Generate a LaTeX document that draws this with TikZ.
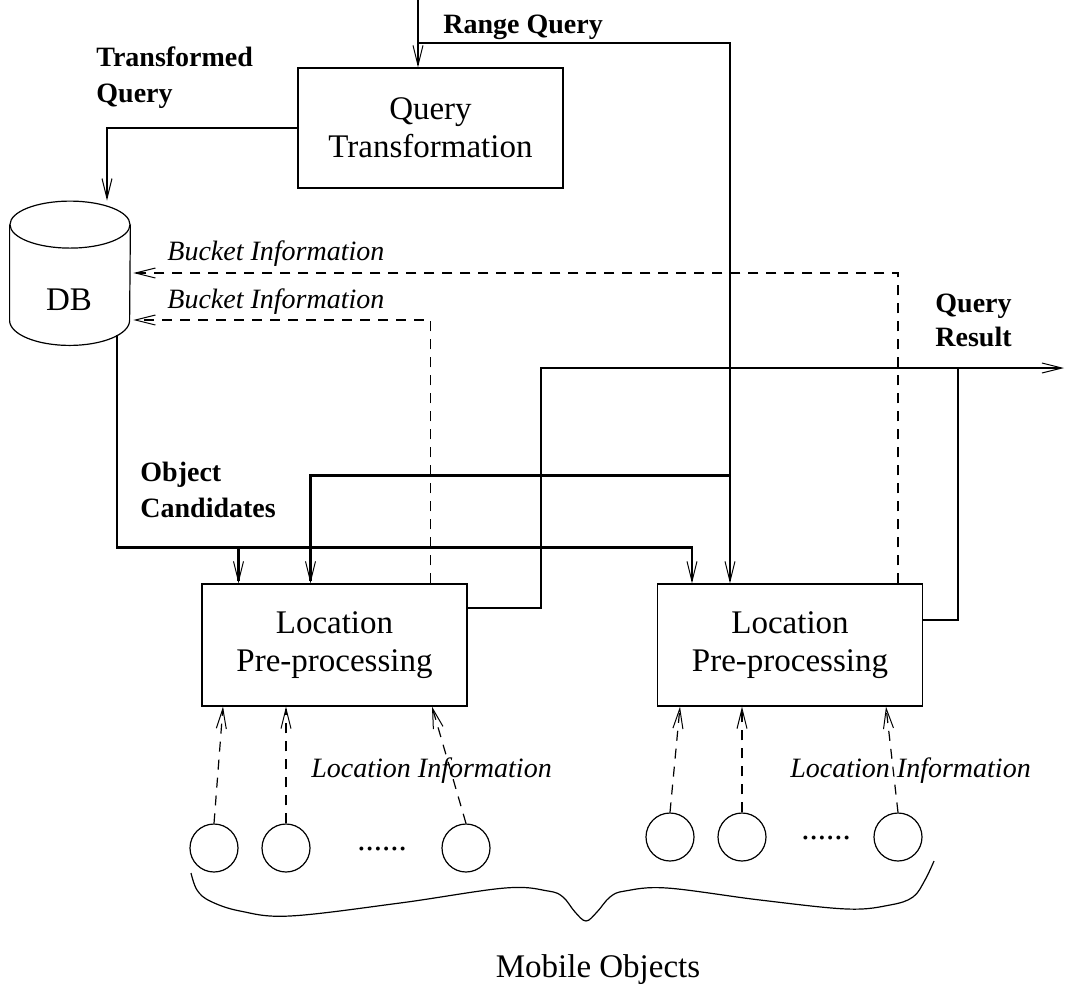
\documentclass[tikz,border=0pt]{standalone}
\usepackage{fontspec}
\setmainfont{Liberation Serif}
\usetikzlibrary{arrows.meta,calc}

\begin{document}
\begin{tikzpicture}[
    x=0.5pt, y=-0.5pt,
    procbox/.style={
        rectangle, draw=black, line width=0.6pt,
        minimum width=132.5pt, minimum height=60pt,
        align=center, inner sep=0pt,
        font=\fontsize{16.5}{19}\selectfont
    },
    dbstore/.style={rectangle, minimum width=60pt, minimum height=72pt, inner sep=0pt},
    mobj/.style={circle, draw=black, line width=0.6pt, minimum size=24pt, inner sep=0pt},
    boldlbl/.style={anchor=west, align=left, inner sep=0pt, font=\fontsize{14}{18}\selectfont\bfseries},
    itlbl/.style={anchor=base west, inner sep=0pt, font=\fontsize{14}{17}\selectfont\itshape},
    plain/.style={inner sep=0pt, font=\fontsize{16.5}{19}\selectfont},
    barbtip/.style={-{Straight Barb[length=10pt,width=5pt,line width=0.5pt]}},
    flow/.style={line width=1.1pt, barbtip},
    flowline/.style={line width=1.1pt},
    infoflow/.style={line width=0.6pt, dash pattern=on 5pt off 4pt, barbtip}
]
\useasboundingbox (0,0) rectangle (1066,992);

% --- Boxes ---
\node[procbox] (qt) at (430.5,128) {Query\\Transformation};
\node[dbstore] (db) at (70,273) {};
\draw[line width=0.6pt] ($(db.north)+(0,24)$) ellipse [x radius=30pt, y radius=11.75pt];
\draw[line width=0.6pt] ($(db.north west)+(0,24)$) -- ($(db.south west)+(0,-25)$)
    arc[start angle=180, end angle=360, x radius=30pt, y radius=12.5pt]
    -- ($(db.north east)+(0,24)$);
\node[plain] (dbname) at (69,300) {DB};
\node[procbox, minimum height=61pt] (locL) at (334.5,645) {Location\\Pre-processing};
\node[procbox, minimum height=61pt] (locR) at (790,645) {Location\\Pre-processing};

% --- Mobile objects ---
\foreach \i/\x in {1/214, 2/286, 3/466} \node[mobj] (m\i) at (\x,848) {};
\foreach \i/\x in {1/670, 2/742, 3/898} \node[mobj] (n\i) at (\x,837) {};
\node[plain, anchor=base] (dotsL) at (382,850) {......};
\node[plain, anchor=base] (dotsR) at (826,839) {......};

% --- Labels ---
\node[boldlbl] (tqlbl) at (96,78) {Transformed\\Query};
\node[boldlbl, anchor=base west] (rqlbl) at (443,33) {Range Query};
\node[boldlbl, font=\fontsize{14}{17}\selectfont\bfseries] (qrlbl) at (935,320) {Query\\Result};
\node[boldlbl] (oclbl) at (140,490) {Object\\Candidates};
\node[itlbl] (bi1) at (167,260) {Bucket Information};
\node[itlbl] (bi2) at (167,308) {Bucket Information};
\node[itlbl] (liL) at (311,777) {Location Information};
\node[itlbl] (liR) at (790,777) {Location Information};
\node[plain] (mobile) at (598,970) {Mobile Objects};

\coordinate (rqtop) at (418,0);
\coordinate (qrout) at (1064,368);

% --- Range query ---
\draw[flow] (rqtop) -- (rqtop |- qt.north);
\draw[flow] ($(rqtop)+(0,43)$) -| ($(locR.north)+(-60,0)$);
\draw[flow] ($(locR.north)+(-60,-108)$) -| ($(locL.north)+(-24,0)$);

% --- Transformed query, object candidates ---
\draw[flow] (qt.west) -| ($(db.north)+(37,0)$);
\draw[flow] ($(db.south)+(47,-10)$) |- ($(locR.north)+(-98,-36)$) -- ($(locR.north)+(-98,0)$);
\draw[flow] ($(locL.north)+(-96,-36)$) -- ($(locL.north)+(-96,0)$);

% --- Bucket information ---
\draw[infoflow] ($(locR.north)+(108,0)$) |- ($(db.east)+(3,0)$);
\draw[infoflow] ($(locL.north)+(96,0)$) |- ($(db.east)+(3,47)$);

% --- Query result ---
\draw[flow] ($(locL.east)+(0,-37)$) -- ++(73,0) |- (qrout);
\draw[flowline] ($(locR.east)+(0,-25)$) -| ($(qrout)+(-106,0)$);

% --- Location information ---
\draw[infoflow] (m1.north) -- ($(locL.south)+(-111.5,0)$);
\draw[infoflow] (m2.north) -- ($(locL.south)+(-48.5,0)$);
\draw[infoflow] (m3.north) -- ($(locL.south)+(97.5,0)$);
\draw[infoflow] (n1.north) -- ($(locR.south)+(-110,0)$);
\draw[infoflow] (n2.north) -- ($(locR.south)+(-48,0)$);
\draw[infoflow] (n3.north) -- ($(locR.south)+(96,0)$);

% --- Brace ---
\draw[line width=0.6pt] plot[smooth, tension=0.6] coordinates {(191,873) (197,890) (210,901) (240,911) (290,916) (400,903) (505,888) (548,891) (563,897) (575,912) (586,921) (597,912) (610,897) (625,891) (667,888) (760,900) (847,909) (890,905) (913,897) (925,880) (934,861)};

\end{tikzpicture}
\end{document}
